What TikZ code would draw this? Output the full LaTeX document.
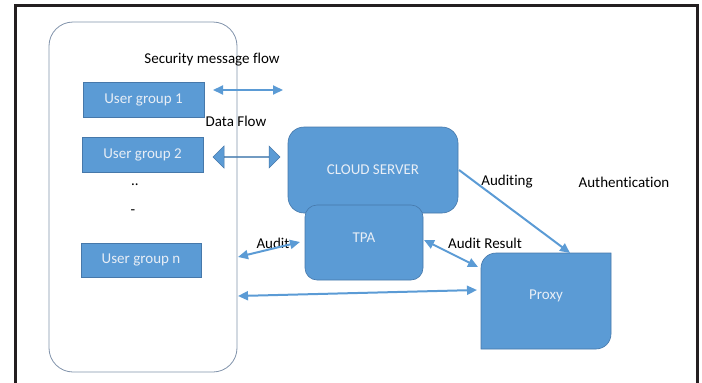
\documentclass[tikz,border=0pt]{standalone}
\usepackage{fontspec}
\setmainfont[Ligatures=NoCommon]{Carlito}
\usetikzlibrary{arrows.meta,shapes.arrows}
\definecolor{officeblue}{RGB}{91,155,213}
\definecolor{edgeblue}{RGB}{70,120,170}
\definecolor{boxtext}{RGB}{232,238,246}
\definecolor{outline}{RGB}{128,146,170}
\definecolor{framecol}{RGB}{35,31,32}
\tikzset{
  x=1pt, y=-1pt,
  bluebox/.style={fill=officeblue, draw=edgeblue, line width=0.6pt, inner sep=0pt,
    text=boxtext, font=\fontsize{15}{17}\selectfont},
  lbl/.style={inner sep=0pt, text=black, font=\fontsize{15}{17}\selectfont},
  conn/.style={draw=officeblue, line width=2pt},
  tipboth/.style={conn, {Triangle[length=10pt,width=9pt]}-{Triangle[length=10pt,width=9pt]}},
  tipend/.style={conn, -{Triangle[length=10pt,width=9pt]}},
}
\begin{document}
\begin{tikzpicture}
\useasboundingbox (0,0) rectangle (702,383);
% outer frame
\draw[framecol, line width=3pt] (15,390) -- (15,5) -- (697,5) -- (697,390);
% group container
\node[draw=outline, line width=0.8pt, rounded corners=24pt, minimum width=188pt, minimum height=350pt, inner sep=0pt] (grp) at (143,197) {};
% user groups
\node[bluebox, minimum width=121pt, minimum height=35pt] (ug1) at (143.5,99.5) {User group 1};
\node[bluebox, minimum width=121pt, minimum height=35pt] (ug2) at (142.5,154.5) {User group 2};
\node[bluebox, minimum width=120pt, minimum height=34pt] (ugn) at (141,260) {User group n};
\node[lbl] (dots) at (135,185) {..};
\node[lbl] (dash) at (133,212) {-};
% cloud server and TPA
\node[bluebox, rounded corners=16pt, minimum width=170pt, minimum height=86pt] (cs) at (373,170) {CLOUD SERVER};
\node[bluebox, rounded corners=12pt, minimum width=118pt, minimum height=75pt, text depth=10pt] (tpa) at (364,242.5) {TPA};
% proxy
\fill[officeblue, draw=edgeblue, line width=0.6pt]
  (481,349) -- (481,268) .. controls (481,259.72) and (487.72,253) .. (496,253)
  -- (611,253) -- (611,334) .. controls (611,342.28) and (604.28,349) .. (596,349) -- cycle;
\node[lbl, text=boxtext] (prx) at (546,296) {Proxy};
% labels
\node[lbl] (smf) at (212,60) {Security message flow};
\node[lbl] (df) at (236,121) {Data Flow};
\node[lbl] (aud) at (507,182) {Auditing};
\node[lbl] (auth) at (624,182) {Authentication};
\node[lbl] (audit) at (273,243) {Audit};
\node[lbl] (ares) at (485,243) {Audit Result};
% connector endpoints
\coordinate (s1) at (213,90);
\coordinate (s2) at (283,90);
\coordinate (c1) at (459,170);
\coordinate (p1) at (570,253);
\coordinate (a1) at (238,257);
\coordinate (a2) at (300,242);
\coordinate (r1) at (424,240);
\coordinate (r2) at (478,267);
\coordinate (b1) at (238,296);
\coordinate (b2) at (477,290);
% connectors
\draw[tipboth] (s1) -- (s2);
\node[double arrow, fill=officeblue, draw=edgeblue, line width=0.5pt, inner sep=0pt,
  minimum height=67pt, minimum width=22pt, double arrow head extend=5.5pt] (blk) at (246.5,157) {};
\draw[tipend] (c1) -- (p1);
\draw[tipboth] (a1) -- (a2);
\draw[tipboth] (r1) -- (r2);
\draw[tipboth] (b1) -- (b2);
\end{tikzpicture}
\end{document}
